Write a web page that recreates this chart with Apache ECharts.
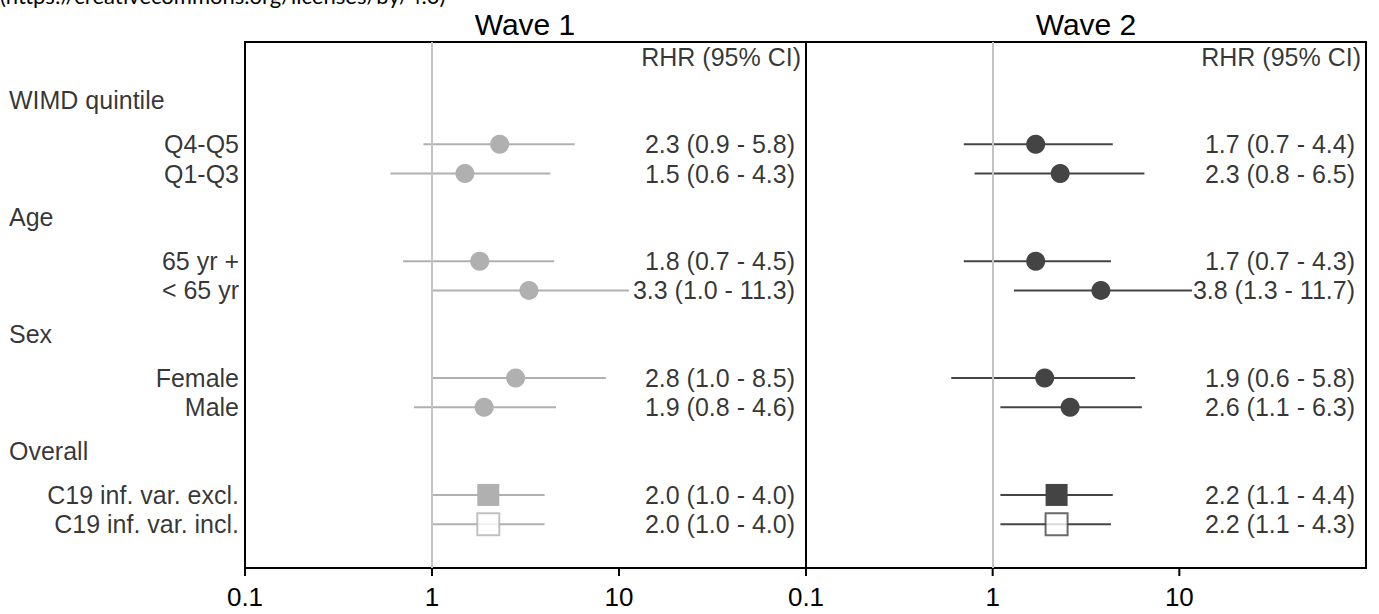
<!DOCTYPE html>
<html><head><meta charset="utf-8">
<script src="https://cdn.jsdelivr.net/npm/echarts@6/dist/echarts.min.js"></script>
<style>html,body{margin:0;padding:0;background:#fff}#c{width:1379px;height:614px}</style>
</head><body><div id="c"></div>
<script>
// ---------- data ----------
const panelTitles = ['Wave 1', 'Wave 2'];
const columnHeader = 'RHR (95% CI)';
const sourceNote = '(https://creativecommons.org/licenses/by/4.0)';
const groupNames = ['WIMD quintile', 'Age', 'Sex', 'Overall'];
const subgroupNames = [
  ['Q4-Q5', 'Q1-Q3'],
  ['65 yr +', '< 65 yr'],
  ['Female', 'Male'],
  ['C19 inf. var. excl.', 'C19 inf. var. incl.']
];
const wave1Est = [2.3, 1.5, 1.8, 3.3, 2.8, 1.9, 2.0, 2.0];
const wave1Lo  = [0.9, 0.6, 0.7, 1.0, 1.0, 0.8, 1.0, 1.0];
const wave1Hi  = [5.8, 4.3, 4.5, 11.3, 8.5, 4.6, 4.0, 4.0];
const wave2Est = [1.7, 2.3, 1.7, 3.8, 1.9, 2.6, 2.2, 2.2];
const wave2Lo  = [0.7, 0.8, 0.7, 1.3, 0.6, 1.1, 1.1, 1.1];
const wave2Hi  = [4.4, 6.5, 4.3, 11.7, 5.8, 6.3, 4.4, 4.3];
const xTicks = [0.1, 1, 10];

// ---------- layout / style ----------
const FONT = '"Liberation Sans", Arial, sans-serif';
const GT = 42, GH = 526;
const SLOTS = 18;
const panelColors = ['#b0b0b0', '#444444'];
const headSlot = g => 4 * g + 2;
const rowSlot = (g, k) => 4 * g + 3.5 + k;

const rows = [];
subgroupNames.forEach((subs, g) => subs.forEach((name, k) => rows.push({ g, k, name, y: rowSlot(g, k) })));

const waves = [
  { est: wave1Est, lo: wave1Lo, hi: wave1Hi },
  { est: wave2Est, lo: wave2Lo, hi: wave2Hi }
];

const grids = [
  { left: 245, top: GT, width: 561, height: GH, show: true, borderColor: '#000', borderWidth: 2, backgroundColor: 'transparent' },
  { left: 806, top: GT, width: 560, height: GH, show: true, borderColor: '#000', borderWidth: 2, backgroundColor: 'transparent' },
  { left: 0, top: GT, width: 245, height: GH, show: false }
];

const xAxes = [0, 1].map(i => ({
  type: 'log', logBase: 10, gridIndex: i, min: 0.1, max: 100,
  axisLine: { show: true, lineStyle: { color: '#000', width: 2 } },
  axisTick: { show: false },
  axisLabel: { show: true, customValues: xTicks, margin: 16, fontSize: 26, color: '#000', fontFamily: FONT,
    formatter: v => String(v) },
  splitLine: { show: false }
}));
xAxes.push({ type: 'value', gridIndex: 2, min: 0, max: 1, show: false });

const yAxes = [0, 1, 2].map(i => ({
  type: 'value', gridIndex: i, min: 0, max: SLOTS, inverse: true, show: false
}));

const series = [];
waves.forEach((w, p) => {
  const col = panelColors[p];
  // axis ticks below the panel
  series.push({
    type: 'custom', xAxisIndex: p, yAxisIndex: p, z: 5, clip: false, silent: true,
    data: xTicks.map(v => [v]),
    encode: { x: 0 },
    renderItem: (params, api) => {
      const a = api.coord([api.value(0), SLOTS]);
      return { type: 'line', shape: { x1: a[0], y1: a[1], x2: a[0], y2: a[1] + 8 },
        style: { stroke: '#000', lineWidth: 2 } };
    }
  });
  // CI lines
  series.push({
    type: 'custom', xAxisIndex: p, yAxisIndex: p, z: 2,
    data: rows.map((r, i) => [w.lo[i], w.hi[i], r.y]),
    encode: { x: [0, 1], y: 2 },
    renderItem: (params, api) => {
      const a = api.coord([api.value(0), api.value(2)]);
      const b = api.coord([api.value(1), api.value(2)]);
      return { type: 'line', shape: { x1: a[0], y1: a[1], x2: b[0], y2: b[1] },
        style: { stroke: col, lineWidth: 2 } };
    },
    markLine: {
      silent: true, symbol: 'none', animation: false,
      label: { show: false },
      lineStyle: { color: '#c4c4c4', width: 2, type: 'solid' },
      data: [{ xAxis: 1 }]
    }
  });
  // point estimates
  series.push({
    type: 'scatter', xAxisIndex: p, yAxisIndex: p, z: 3,
    data: rows.map((r, i) => {
      const overall = r.g === groupNames.length - 1;
      const hollow = overall && r.k === 1;
      return {
        value: [w.est[i], r.y],
        symbol: overall ? 'rect' : 'circle',
        symbolSize: overall ? 22 : 19,
        itemStyle: hollow ? { color: '#fff', borderColor: col, borderWidth: 2 } : { color: col, opacity: 1 }
      };
    })
  });
  // numeric text column
  series.push({
    type: 'scatter', xAxisIndex: p, yAxisIndex: p, z: 4, symbolSize: 0, silent: true,
    data: rows.map((r, i) => ({
      value: [100, r.y],
      label: { formatter: `${w.est[i].toFixed(1)} (${w.lo[i].toFixed(1)} - ${w.hi[i].toFixed(1)})` }
    })).concat([{ value: [100, 0.5], label: { formatter: columnHeader, distance: 5 } }]),
    label: { show: true, position: 'left', distance: 11, fontSize: 25, color: '#000', fontFamily: FONT }
  });
});

// left row labels
series.push({
  type: 'scatter', xAxisIndex: 2, yAxisIndex: 2, symbolSize: 0, silent: true,
  data: groupNames.map((n, g) => ({ value: [0, headSlot(g)], label: { formatter: n, position: 'right', distance: 9 } }))
    .concat(rows.map(r => ({ value: [1, r.y], label: { formatter: r.name, position: 'left', distance: 6 } }))),
  label: { show: true, fontSize: 25, color: '#000', fontFamily: FONT }
});

const chart = echarts.init(document.getElementById('c'), null, { renderer: 'svg' });
chart.setOption({
  animation: false,
  backgroundColor: '#fff',
  grid: grids,
  xAxis: xAxes,
  yAxis: yAxes,
  series,
  graphic: [
    { type: 'text', left: 0, top: -16, style: { text: sourceNote, fontSize: 22, fontFamily: 'Lato, "Open Sans", sans-serif', fill: '#000' } },
    { type: 'text', x: 525, y: 24, style: { text: panelTitles[0], fontSize: 30, fontFamily: FONT, fill: '#000', align: 'center', verticalAlign: 'middle' } },
    { type: 'text', x: 1086, y: 24, style: { text: panelTitles[1], fontSize: 30, fontFamily: FONT, fill: '#000', align: 'center', verticalAlign: 'middle' } }
  ]
});
</script>
</body></html>
